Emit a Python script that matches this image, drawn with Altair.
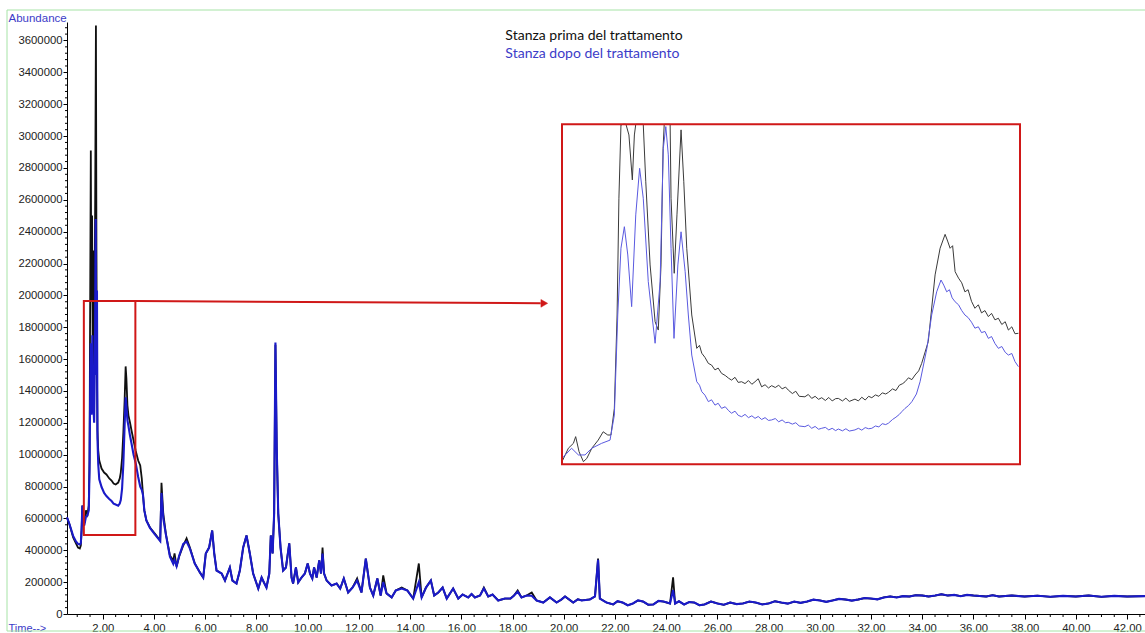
import altair as alt
import pandas as pd

# ---------------- main chromatogram: early part (own sampling per trace) ----------------
black_early_time = [0.60, 0.70, 0.84, 0.95, 1.03, 1.10, 1.14, 1.17, 1.20, 1.23,
                    1.28, 1.34, 1.40, 1.45, 1.48, 1.50, 1.53, 1.55, 1.58, 1.61,
                    1.64, 1.67, 1.70, 1.73, 1.75, 1.77, 1.79, 1.82, 1.86, 1.95,
                    2.05, 2.14, 2.25, 2.34, 2.42, 2.50, 2.60, 2.66, 2.70, 2.75,
                    2.80, 2.85, 2.89, 2.92, 2.96, 3.00, 3.06, 3.12, 3.20, 3.28,
                    3.38, 3.46, 3.52, 3.57, 3.62]
black_early_abund = [606000, 562000, 480000, 443000, 417000, 411000, 430000, 524000, 681000, 556000,
                     574000, 650000, 625000, 681000, 963000, 1779000, 2909000, 1968000, 2502000, 1400000,
                     2282000, 1780000, 2596000, 3694000, 2282000, 1530000, 1152000, 1026000, 963000, 913000,
                     888000, 876000, 851000, 838000, 819000, 813000, 825000, 851000, 888000, 977000,
                     1138000, 1340000, 1554000, 1478000, 1310000, 1247000, 1202000, 1152000, 1089000, 1026000,
                     963000, 932000, 851000, 744000, 650000]

blue_early_time = [0.60, 0.70, 0.84, 0.95, 1.03, 1.10, 1.14, 1.17, 1.20, 1.23,
                   1.28, 1.34, 1.40, 1.45, 1.48, 1.51, 1.53, 1.56, 1.59, 1.62,
                   1.66, 1.69, 1.72, 1.74, 1.77, 1.79, 1.82, 1.86, 1.95, 2.05,
                   2.14, 2.25, 2.34, 2.42, 2.50, 2.60, 2.66, 2.70, 2.75, 2.80,
                   2.85, 2.89, 2.92, 2.96, 3.00, 3.06, 3.12, 3.20, 3.28, 3.38,
                   3.46, 3.52, 3.57, 3.62]
blue_early_abund = [606000, 562000, 490000, 455000, 440000, 436000, 445000, 530000, 681000, 556000,
                    560000, 610000, 620000, 650000, 900000, 1500000, 1700000, 1250000, 1750000, 1350000,
                    1200000, 1600000, 2480000, 1500000, 2030000, 1100000, 940000, 846000, 797000, 760000,
                    740000, 722000, 709000, 693000, 687000, 680000, 693000, 715000, 785000, 940000,
                    1180000, 1360000, 1300000, 1215000, 1180000, 1120000, 1070000, 1000000, 950000, 860000,
                    800000, 780000, 745000, 650000]

# ---------------- main chromatogram: rest of the run (shared sampling) ----------------
late_time = [3.70, 3.84, 4.03, 4.18, 4.24, 4.29, 4.36, 4.46, 4.62, 4.75,
             4.80, 4.88, 4.98, 5.14, 5.27, 5.40, 5.59, 5.79, 5.92, 6.02,
             6.15, 6.27, 6.35, 6.44, 6.64, 6.77, 6.96, 7.06, 7.22, 7.35,
             7.48, 7.61, 7.74, 7.87, 8.07, 8.20, 8.29, 8.39, 8.50, 8.56,
             8.63, 8.69, 8.74, 8.79, 8.85, 8.94, 9.04, 9.15, 9.28, 9.37,
             9.43, 9.54, 9.63, 9.76, 9.89, 10.00, 10.09, 10.18, 10.25, 10.35,
             10.45, 10.52, 10.58, 10.64, 10.74, 10.93, 11.13, 11.27, 11.41, 11.58,
             11.75, 11.93, 12.10, 12.27, 12.43, 12.56, 12.72, 12.85, 12.95, 13.08,
             13.28, 13.44, 13.67, 13.89, 14.12, 14.34, 14.45, 14.62, 14.81, 14.94,
             15.10, 15.27, 15.43, 15.68, 15.88, 16.05, 16.27, 16.40, 16.53, 16.73,
             16.88, 17.05, 17.22, 17.44, 17.70, 17.92, 18.05, 18.20, 18.35, 18.55,
             18.75, 18.94, 19.20, 19.46, 19.72, 19.90, 20.05, 20.37, 20.55, 20.70,
             21.02, 21.22, 21.34, 21.41, 21.67, 21.93, 22.10, 22.30, 22.50, 22.70,
             22.90, 23.10, 23.30, 23.50, 23.70, 23.90, 24.15, 24.27, 24.35, 24.50,
             24.70, 24.90, 25.10, 25.30, 25.50, 25.75, 26.00, 26.25, 26.50, 26.75,
             27.00, 27.25, 27.50, 27.75, 28.00, 28.25, 28.50, 28.75, 29.00, 29.25,
             29.50, 29.75, 30.00, 30.25, 30.50, 30.75, 31.00, 31.25, 31.50, 31.75,
             32.00, 32.25, 32.50, 32.75, 33.00, 33.25, 33.50, 33.75, 34.00, 34.25,
             34.50, 34.75, 35.00, 35.25, 35.50, 35.75, 36.00, 36.50, 36.75, 37.00,
             37.50, 38.00, 38.50, 39.00, 39.50, 40.00, 40.50, 41.00, 41.50, 42.00, 42.70]
black_late = [587000, 543000, 505000, 474000, 461000, 823000, 631000, 505000, 367000, 336000,
              380000, 298000, 361000, 430000, 475000, 417000, 317000, 261000, 229000, 380000,
              417000, 524000, 380000, 273000, 254000, 210000, 292000, 210000, 191000, 273000,
              417000, 493000, 380000, 254000, 160000, 229000, 198000, 166000, 254000, 493000,
              380000, 631000, 1690000, 1045000, 631000, 417000, 273000, 292000, 443000, 229000,
              191000, 292000, 198000, 229000, 254000, 317000, 254000, 223000, 292000, 229000,
              336000, 254000, 417000, 254000, 210000, 179000, 191000, 160000, 223000, 135000,
              166000, 223000, 135000, 348000, 166000, 116000, 223000, 116000, 242000, 129000,
              104000, 148000, 166000, 148000, 97000, 317000, 104000, 166000, 210000, 116000,
              135000, 166000, 97000, 160000, 97000, 122000, 104000, 125000, 104000, 116000,
              166000, 110000, 122000, 85000, 97000, 97000, 115000, 148000, 104000, 116000,
              135000, 85000, 72000, 104000, 72000, 90000, 110000, 72000, 92000, 85000,
              91000, 110000, 348000, 97000, 72000, 60000, 80000, 72000, 55000, 66000,
              85000, 78000, 58000, 60000, 82000, 78000, 66000, 230000, 66000, 80000,
              60000, 75000, 72000, 55000, 60000, 78000, 66000, 58000, 72000, 62000,
              66000, 78000, 72000, 60000, 66000, 80000, 72000, 65000, 78000, 70000,
              78000, 90000, 85000, 76000, 85000, 95000, 91000, 84000, 91000, 100000,
              97000, 92000, 104000, 110000, 104000, 112000, 110000, 118000, 116000, 110000,
              116000, 124000, 116000, 120000, 112000, 120000, 116000, 110000, 118000, 110000,
              116000, 110000, 115000, 108000, 114000, 110000, 116000, 108000, 114000, 110000, 112000]
blue_late = [587000, 540000, 500000, 470000, 458000, 760000, 600000, 500000, 360000, 315000,
             340000, 300000, 365000, 440000, 455000, 410000, 317000, 261000, 229000, 380000,
             417000, 524000, 380000, 273000, 254000, 210000, 292000, 210000, 191000, 273000,
             417000, 493000, 380000, 254000, 160000, 229000, 198000, 166000, 254000, 493000,
             380000, 631000, 1704000, 1045000, 631000, 417000, 273000, 292000, 443000, 229000,
             191000, 292000, 198000, 229000, 254000, 317000, 254000, 223000, 292000, 229000,
             336000, 254000, 380000, 254000, 210000, 179000, 191000, 160000, 223000, 135000,
             166000, 210000, 135000, 348000, 166000, 116000, 223000, 116000, 200000, 129000,
             104000, 148000, 160000, 148000, 97000, 200000, 104000, 166000, 210000, 116000,
             135000, 166000, 97000, 160000, 97000, 122000, 104000, 125000, 104000, 116000,
             160000, 110000, 122000, 85000, 97000, 97000, 115000, 140000, 104000, 116000,
             115000, 85000, 72000, 104000, 72000, 90000, 110000, 72000, 92000, 85000,
             91000, 110000, 340000, 97000, 72000, 60000, 80000, 72000, 55000, 66000,
             85000, 78000, 58000, 60000, 82000, 78000, 66000, 150000, 66000, 80000,
             60000, 75000, 72000, 55000, 60000, 78000, 66000, 58000, 72000, 62000,
             66000, 78000, 72000, 60000, 66000, 80000, 72000, 65000, 78000, 70000,
             78000, 90000, 85000, 76000, 85000, 95000, 91000, 84000, 91000, 100000,
             97000, 92000, 104000, 110000, 104000, 112000, 110000, 118000, 116000, 110000,
             116000, 124000, 116000, 120000, 112000, 120000, 116000, 110000, 118000, 110000,
             116000, 110000, 115000, 108000, 114000, 110000, 116000, 108000, 114000, 110000, 112000]

# ---------------- inset: enlarged view of the boxed window ----------------
inset_black_time = [1.257, 1.286, 1.308, 1.318, 1.333, 1.352, 1.367, 1.389, 1.417, 1.439,
                    1.459, 1.473, 1.488, 1.500, 1.508, 1.517, 1.526, 1.539, 1.552, 1.567,
                    1.576, 1.582, 1.615, 1.626, 1.645, 1.667, 1.681, 1.693, 1.702, 1.707,
                    1.733, 1.737, 1.751, 1.763, 1.781, 1.793, 1.806, 1.828,
                    1.850, 1.862, 1.872, 1.886, 1.901, 1.915, 1.930, 1.944, 1.959, 1.975,
                    1.990, 2.003, 2.018, 2.032, 2.047, 2.062, 2.077, 2.092, 2.106, 2.120,
                    2.135, 2.150, 2.165, 2.179, 2.195, 2.210, 2.225, 2.240, 2.252, 2.270,
                    2.285, 2.300, 2.325, 2.340, 2.355, 2.370, 2.385, 2.399, 2.415, 2.430,
                    2.445, 2.460, 2.472, 2.490, 2.505, 2.520, 2.545, 2.560, 2.575, 2.590,
                    2.605, 2.619, 2.635, 2.650, 2.665, 2.680, 2.692, 2.710, 2.725, 2.740,
                    2.755, 2.765, 2.780, 2.795, 2.809, 2.825, 2.838,
                    2.867, 2.897, 2.919,
                    2.941, 2.952, 2.963, 2.974, 2.985, 3.000, 3.014, 3.028, 3.042, 3.057,
                    3.072, 3.087, 3.101, 3.116, 3.131, 3.145, 3.160, 3.175, 3.190, 3.205,
                    3.219, 3.234, 3.248, 3.263]
inset_black_abund = [508000, 566000, 587000, 616000, 551000, 508000, 522000, 566000, 601000, 637000,
                     623000, 623000, 738000, 1141000, 1645000, 1961000, 2150000, 2200000, 1918000, 1724000,
                     1918000, 2150000, 2100000, 1716000, 1357000, 1112000, 1076000, 1357000, 1860000, 2150000,
                     2100000, 1645000, 1321000, 1573000, 1940000, 1716000, 1429000, 1141000,
                     997000, 1010000, 976000, 958000, 932000, 925000, 904000, 912000, 889000, 880000,
                     868000, 860000, 872000, 850000, 853000, 845000, 858000, 842000, 853000, 866000,
                     831000, 840000, 826000, 836000, 828000, 838000, 822000, 830000, 817000, 802000,
                     812000, 790000, 788000, 798000, 781000, 790000, 777000, 784000, 772000, 785000,
                     770000, 780000, 781000, 770000, 782000, 768000, 778000, 770000, 786000, 774000,
                     790000, 784000, 796000, 790000, 805000, 800000, 807000, 822000, 815000, 838000,
                     845000, 853000, 870000, 862000, 882000, 900000, 932000,
                     1026000, 1314000, 1429000,
                     1489000, 1460000, 1429000, 1440000, 1328000, 1300000, 1280000, 1241000, 1250000, 1200000,
                     1170000, 1185000, 1150000, 1160000, 1134000, 1148000, 1120000, 1127000, 1100000, 1112000,
                     1076000, 1090000, 1060000, 1062000]
inset_blue_time = [1.257, 1.300, 1.330, 1.359, 1.389, 1.432, 1.469, 1.488, 1.503, 1.517,
                   1.532, 1.547, 1.564, 1.582, 1.599, 1.615, 1.637, 1.667, 1.689, 1.703,
                   1.714, 1.725, 1.737, 1.750, 1.767, 1.781, 1.799, 1.813, 1.828,
                   1.850, 1.862, 1.872, 1.886, 1.901, 1.915, 1.930, 1.944, 1.959, 1.975,
                   1.990, 2.003, 2.018, 2.032, 2.047, 2.062, 2.077, 2.092, 2.106, 2.120,
                   2.135, 2.150, 2.165, 2.179, 2.195, 2.210, 2.225, 2.240, 2.252, 2.270,
                   2.285, 2.300, 2.325, 2.340, 2.355, 2.370, 2.385, 2.399, 2.415, 2.430,
                   2.445, 2.460, 2.472, 2.490, 2.505, 2.520, 2.545, 2.560, 2.575, 2.590,
                   2.605, 2.619, 2.635, 2.650, 2.665, 2.680, 2.692, 2.710, 2.725, 2.740,
                   2.751, 2.765, 2.780, 2.795, 2.815, 2.831,
                   2.861, 2.882, 2.904,
                   2.923, 2.935, 2.948, 2.960, 2.972, 2.985, 3.000, 3.014, 3.028, 3.042,
                   3.057, 3.072, 3.087, 3.101, 3.116, 3.131, 3.145, 3.160, 3.175, 3.190,
                   3.205, 3.219, 3.234, 3.248, 3.263]
inset_blue_abund = [522000, 566000, 537000, 537000, 566000, 587000, 601000, 709000, 1141000, 1429000,
                    1522000, 1400000, 1177000, 1573000, 1774000, 1645000, 1285000, 1019000, 1285000, 1860000,
                    1954000, 1832000, 1429000, 1040000, 1357000, 1500000, 1328000, 1141000, 968000,
                    853000, 838000, 810000, 795000, 767000, 775000, 752000, 760000, 738000, 745000,
                    728000, 717000, 726000, 708000, 702000, 712000, 698000, 706000, 695000, 703000,
                    690000, 698000, 686000, 688000, 694000, 680000, 688000, 676000, 678000, 670000,
                    676000, 662000, 659000, 666000, 652000, 660000, 648000, 652000, 656000, 645000,
                    652000, 642000, 649000, 641000, 650000, 640000, 645000, 652000, 644000, 655000,
                    650000, 652000, 662000, 658000, 672000, 668000, 674000, 690000, 700000, 712000,
                    724000, 738000, 750000, 767000, 800000, 853000,
                    997000, 1141000, 1241000,
                    1292000, 1270000, 1241000, 1250000, 1215000, 1198000, 1185000, 1160000, 1141000, 1130000,
                    1110000, 1084000, 1090000, 1065000, 1070000, 1040000, 1048000, 1018000, 997000, 1005000,
                    980000, 968000, 975000, 940000, 918000]

# zoom window (red box in the main plot = frame of the inset)
window_time = [1.258, 3.27]
window_abund = [496600, 1964000]

# arrow from the red box to the inset (shaft end, then tip)
arrow_time = [3.27, 19.10]
arrow_abund = [1964000, 1951000]
arrow_tip_time = [19.24]
arrow_tip_abund = [1950000]

legend_labels = ["Stanza prima del trattamento", "Stanza dopo del trattamento"]
legend_time = [17.72, 17.72]
legend_abund = [3631000, 3512000]

# axis tick positions
x_major_ticks = [2.0 * k for k in range(1, 22)]
x_minor_ticks = [0.5 * k for k in range(2, 86) if k % 4 != 0]
y_major_ticks = [200000 * k for k in range(0, 19)]
y_minor_ticks = [40000 * k for k in range(1, 93) if k % 5 != 0]

# ---------------- styling ----------------
W, H = 1078, 592
X_DOM = [0.6, 42.7]
Y_DOM = [0, 3716000]
BLACK = "#101010"
BLUE = "#1a1ac8"
RED = "#d01818"
GREEN = "#a6e3a6"
LABEL_BLUE = "#3c3cc8"
AXIS_FONT = "Liberation Sans"

main_black = pd.DataFrame({"time": black_early_time + late_time,
                           "abundance": black_early_abund + black_late})
main_blue = pd.DataFrame({"time": blue_early_time + late_time,
                          "abundance": blue_early_abund + blue_late})
ins_black = pd.DataFrame({"time": inset_black_time, "abundance": inset_black_abund})
ins_blue = pd.DataFrame({"time": inset_blue_time, "abundance": inset_blue_abund})
window = pd.DataFrame({"t0": [window_time[0]], "t1": [window_time[1]],
                       "a0": [window_abund[0]], "a1": [window_abund[1]]})
arrow = pd.DataFrame({"time": arrow_time, "abundance": arrow_abund})
arrow_tip = pd.DataFrame({"time": arrow_tip_time, "abundance": arrow_tip_abund})
legend = pd.DataFrame({"label": legend_labels, "time": legend_time, "abundance": legend_abund})
xminor = pd.DataFrame({"time": x_minor_ticks})
yminor = pd.DataFrame({"abundance": y_minor_ticks})

xs = alt.Scale(domain=X_DOM, nice=False, zero=False)
ys = alt.Scale(domain=Y_DOM, nice=False, zero=False)

x_axis = alt.Axis(
    orient="bottom", values=x_major_ticks, format=".2f", tickSize=5,
    labelOverlap=False, labelFlush=False, labelBound=False,
    labelFont=AXIS_FONT, labelFontSize=11.3, labelColor="#222222", labelPadding=3,
    domainColor="black", tickColor="black", grid=False,
    title="Time-->", titleFont=AXIS_FONT, titleFontSize=11, titleFontWeight="normal",
    titleColor=LABEL_BLUE, titleAlign="left", titleBaseline="alphabetic",
    titleAngle=0, titleX=-59, titleY=17,
)
y_axis = alt.Axis(
    orient="left", values=y_major_ticks, format="d", tickSize=4,
    labelOverlap=False, labelFlush=False, labelBound=False,
    labelFont=AXIS_FONT, labelFontSize=11.3, labelColor="#222222", labelPadding=1,
    domainColor="black", tickColor="black", grid=False,
    title="Abundance", titleFont=AXIS_FONT, titleFontSize=11.5, titleFontWeight="normal",
    titleColor=LABEL_BLUE, titleAlign="left", titleBaseline="alphabetic",
    titleAngle=0, titleX=-59, titleY=-1,
)

frame = alt.Chart(pd.DataFrame({"k": [0]})).mark_rect(
    fillOpacity=0, stroke=GREEN, strokeWidth=1
).encode(x=alt.value(-60), x2=alt.value(W + 20), y=alt.value(-12), y2=alt.value(H + 17))

black_line = alt.Chart(main_black).mark_line(color=BLACK, strokeWidth=1.8).encode(
    x=alt.X("time:Q", scale=xs, axis=x_axis),
    y=alt.Y("abundance:Q", scale=ys, axis=y_axis),
)
blue_line = alt.Chart(main_blue).mark_line(color=BLUE, strokeWidth=2.1).encode(
    x=alt.X("time:Q", scale=xs, axis=None),
    y=alt.Y("abundance:Q", scale=ys, axis=None),
)
minor_x = alt.Chart(xminor).mark_rule(color="black", strokeWidth=1).encode(
    x=alt.X("time:Q", scale=xs, axis=None),
    y=alt.value(H), y2=alt.value(H + 3),
)
minor_y = alt.Chart(yminor).mark_rule(color="black", strokeWidth=1).encode(
    y=alt.Y("abundance:Q", scale=ys, axis=None),
    x=alt.value(0), x2=alt.value(-2),
)
red_box = alt.Chart(window).mark_rect(fillOpacity=0, stroke=RED, strokeWidth=2).encode(
    x=alt.X("t0:Q", scale=xs, axis=None), x2="t1",
    y=alt.Y("a0:Q", scale=ys, axis=None), y2="a1",
)
arrow_line = alt.Chart(arrow).mark_line(color=RED, strokeWidth=2, strokeCap="butt").encode(
    x=alt.X("time:Q", scale=xs, axis=None),
    y=alt.Y("abundance:Q", scale=ys, axis=None),
)
arrow_head = alt.Chart(arrow_tip).mark_point(
    shape="triangle-right", filled=True, size=60, fill=RED, stroke=RED, strokeWidth=0.5, opacity=1
).encode(
    x=alt.X("time:Q", scale=xs, axis=None),
    y=alt.Y("abundance:Q", scale=ys, axis=None),
)
legend_text = alt.Chart(legend).mark_text(
    align="left", baseline="middle", font="Lato", fontSize=14
).encode(
    x=alt.X("time:Q", scale=xs, axis=None),
    y=alt.Y("abundance:Q", scale=ys, axis=None),
    text="label:N",
    color=alt.Color("label:N", scale=alt.Scale(domain=legend_labels, range=[BLACK, LABEL_BLUE]),
                    legend=None),
)

# inset scales: same units, mapped onto the inset's pixel box
ixs = alt.Scale(domain=window_time, range=[495, 953], clamp=True, nice=False, zero=False)
iys = alt.Scale(domain=window_abund, range=[442.3, 102.3], clamp=True, nice=False, zero=False)

inset_black = alt.Chart(ins_black).mark_line(color="#3a3a3a", strokeWidth=1).encode(
    x=alt.X("time:Q", scale=ixs, axis=None),
    y=alt.Y("abundance:Q", scale=iys, axis=None),
)
inset_blue = alt.Chart(ins_blue).mark_line(color="#5a5ae0", strokeWidth=1).encode(
    x=alt.X("time:Q", scale=ixs, axis=None),
    y=alt.Y("abundance:Q", scale=iys, axis=None),
)
inset_frame = alt.Chart(window).mark_rect(fillOpacity=0, stroke=RED, strokeWidth=2).encode(
    x=alt.X("t0:Q", scale=ixs, axis=None), x2="t1",
    y=alt.Y("a0:Q", scale=iys, axis=None), y2="a1",
)

chart = alt.layer(
    black_line, frame, blue_line, minor_x, minor_y, red_box, arrow_line, arrow_head,
    legend_text, inset_black, inset_blue, inset_frame
).resolve_scale(
    x="independent", y="independent"
).properties(
    width=W, height=H,
    padding={"left": 67, "top": 22, "right": 0, "bottom": 19},
    autosize=alt.AutoSizeParams(type="none"),
    background="white",
).configure_view(stroke=None)

chart.save("out.html", embed_options={"renderer": "svg", "actions": False})
